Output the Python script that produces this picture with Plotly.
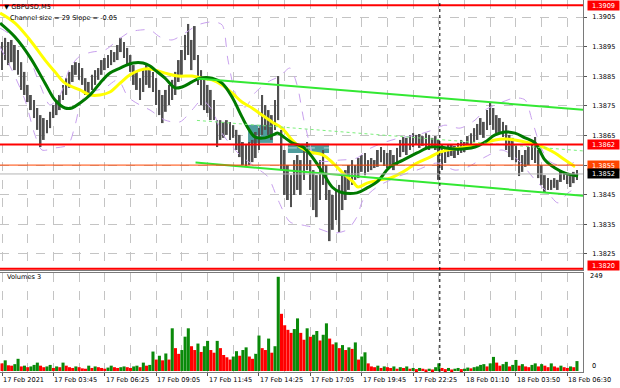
import plotly.graph_objects as go

# ---------------- data (prices stored in pips above BASE) ----------------
BASE = 1.3800
PIP = 0.0001
BARS_PER_GROUP = 2          # each drawn bar = 2 M5 candles

HIGH_PIPS = [
    96.6, 98.0, 96.6, 97.3, 95.6, 93.9, 89.8, 86.5, 82.1, 78.7,
    77.0, 74.3, 71.9, 70.9, 70.2, 73.0, 75.3, 77.0, 78.7, 82.1,
    84.4, 86.5, 88.8, 89.8, 89.5, 87.8, 84.4, 83.1, 85.5, 87.1,
    87.8, 90.5, 91.2, 92.2, 93.9, 93.2, 95.6, 98.0, 96.6, 94.6,
    92.2, 88.8, 86.5, 84.4, 87.1, 88.8, 87.8, 86.5, 84.4, 80.4,
    78.7, 80.4, 82.1, 83.8, 86.5, 90.5, 93.9, 99.0, 102.7, 97.3,
    102.0, 92.2, 87.1, 83.8, 82.1, 80.4, 77.0, 70.2, 70.2, 69.6,
    70.2, 69.6, 68.5, 66.9, 65.2, 62.8, 61.8, 62.8, 63.5, 66.2,
    67.5, 78.7, 75.3, 73.6, 71.9, 77.0, 85.1, 66.9, 60.1, 55.0,
    51.6, 56.7, 58.4, 56.7, 60.1, 62.8, 56.7, 53.3, 51.6, 56.7,
    60.1, 55.0, 46.6, 44.9, 46.6, 48.3, 51.6, 53.3, 55.0, 56.7,
    55.0, 57.4, 58.4, 59.1, 56.7, 57.4, 56.7, 60.1, 61.1, 60.1,
    59.1, 60.1, 58.4, 60.8, 63.5, 64.5, 64.2, 65.2, 65.8, 65.2,
    65.5, 64.8, 65.8, 65.2, 64.2, 64.8, 63.5, 61.8, 61.1, 61.8,
    62.1, 61.5, 62.5, 63.5, 62.8, 64.8, 65.8, 67.5, 68.9, 70.9,
    69.6, 73.6, 76.0, 74.3, 71.9, 70.9, 69.6, 68.5, 65.2, 64.2,
    61.8, 60.1, 58.4, 60.1, 61.1, 63.5, 64.5, 60.1, 55.0, 51.6,
    50.6, 50.0, 50.6, 50.0, 53.3, 52.7, 51.6, 51.3, 52.7, 53.3,
]
LOW_PIPS = [
    87.1, 90.5, 88.8, 89.8, 87.1, 85.5, 80.4, 78.7, 76.3, 73.6,
    70.9, 66.9, 61.1, 63.5, 65.8, 67.5, 70.9, 71.9, 73.6, 77.0,
    78.7, 81.1, 83.1, 85.5, 83.8, 82.1, 78.7, 78.0, 80.4, 82.1,
    83.8, 85.5, 87.1, 87.8, 88.8, 89.8, 90.5, 93.2, 91.2, 88.8,
    86.5, 82.1, 80.4, 77.0, 79.7, 82.1, 81.1, 79.7, 75.3, 71.9,
    69.2, 73.0, 75.3, 77.0, 78.7, 83.1, 85.5, 90.5, 92.2, 87.1,
    90.5, 82.1, 75.3, 73.6, 72.6, 70.2, 70.2, 61.1, 63.5, 64.2,
    65.2, 63.5, 64.2, 60.1, 57.7, 55.0, 54.4, 55.0, 56.0, 57.4,
    60.1, 65.2, 66.9, 65.2, 63.5, 66.9, 70.2, 53.3, 44.9, 43.2,
    40.8, 44.9, 46.6, 44.9, 50.0, 53.3, 46.6, 39.8, 37.4, 43.2,
    48.3, 43.2, 29.3, 33.1, 36.4, 32.4, 39.8, 43.2, 46.6, 48.3,
    50.0, 50.6, 52.7, 51.6, 52.7, 53.3, 54.0, 54.4, 56.0, 54.7,
    54.0, 54.4, 53.3, 55.0, 57.7, 59.4, 58.4, 60.1, 61.1, 61.8,
    60.8, 61.5, 61.1, 60.1, 60.8, 60.1, 50.0, 53.3, 55.7, 57.7,
    58.1, 57.4, 58.4, 59.1, 59.4, 60.8, 61.5, 62.8, 63.5, 65.2,
    64.2, 66.9, 68.5, 66.9, 65.8, 66.2, 64.5, 60.1, 57.7, 56.7,
    56.0, 51.3, 52.7, 54.4, 55.0, 56.7, 55.7, 50.6, 48.3, 45.9,
    46.6, 46.6, 47.3, 46.6, 49.3, 50.0, 48.6, 47.6, 48.9, 50.0,
]
VOLUMES = [
    20, 28, 15, 14, 18, 32, 12, 14, 10, 12,
    16, 22, 14, 10, 12, 16, 8, 12, 10, 22,
    14, 10, 8, 12, 10, 7, 6, 14, 8, 12,
    10, 8, 6, 9, 14, 10, 8, 10, 12, 10,
    8, 12, 14, 10, 22, 14, 16, 51, 30, 40,
    28, 46, 30, 112, 60, 45, 55, 90, 112, 65,
    55, 72, 50, 65, 79, 55, 48, 79, 60, 42,
    36, 30, 38, 52, 40, 55, 62, 38, 32, 45,
    93, 60, 55, 85, 48, 65, 247, 150, 120, 108,
    100, 110, 138, 100, 82, 112, 90, 95, 105, 80,
    95, 125, 85, 70, 75, 60, 68, 55, 62, 58,
    75, 30, 38, 49, 20, 12, 10, 14, 8, 12,
    10, 8, 12, 6, 10, 8, 12, 6, 8, 5,
    8, 6, 4, 6, 4, 10, 20, 8, 5, 8,
    4, 6, 8, 5, 6, 9, 7, 10, 12, 16,
    18, 12, 20, 37, 22, 14, 18, 24, 12, 16,
    29, 14, 18, 12, 10, 16, 20, 12, 18, 14,
    10, 20, 12, 9, 14, 10, 8, 12, 10, 26,
]

# moving averages (bar index, pips)
GREEN_X = [-1.2, 8.1, 17.4, 26.8, 33.0, 39.2, 43.6, 48.6, 54.8, 61.0, 67.2, 73.5, 81.6, 87.8, 92.2,
           95.3, 101.5, 107.7, 112.1, 118.3, 123.3, 130.8, 137.0, 143.2, 149.4, 153.2, 157.5, 163.8,
           168.7, 171.9, 176.2, 180.6, 187.4, 193.6, 199.9, 205.5, 210.5, 221.0, 227.3, 233.5, 241.6,
           249.7, 258.4, 266.5, 272.7, 282.1, 294.5, 300.7, 307.0, 313.2, 319.4, 325.7, 331.9, 338.1,
           344.3, 350.6, 358.7]
GREEN_PIPS = [103.0, 98.3, 91.5, 82.7, 77.0, 74.3, 74.3, 76.0, 78.7, 82.7, 86.1, 87.8, 89.5, 89.5, 88.5,
              87.1, 84.4, 81.1, 81.4, 83.1, 84.4, 84.4, 82.7, 78.0, 71.3, 67.5, 64.5, 64.2,
              65.2, 65.8, 64.2, 62.5, 61.1, 57.4, 52.3, 47.6, 45.9, 45.6, 47.3, 49.3, 54.4,
              56.7, 59.1, 61.1, 61.1, 60.4, 61.1, 62.8, 65.2, 66.2, 65.8, 64.2, 62.5, 56.7,
              54.0, 52.3, 51.3]
YELLOW_X = [-1.2, 8.1, 17.4, 26.8, 33.0, 39.2, 48.6, 54.8, 61.0, 67.2, 73.5, 79.7, 85.9, 92.2, 101.5,
            109.6, 118.3, 124.5, 130.8, 137.0, 143.2, 149.4, 155.7, 161.9, 168.1, 174.3, 180.6, 185.6,
            191.8, 199.9, 206.1, 212.3, 218.6, 221.7, 227.3, 235.4, 241.6, 249.7, 258.4, 266.5, 272.7,
            288.3, 300.7, 307.0, 313.2, 319.4, 325.7, 331.9, 338.1, 344.3, 350.6, 356.8]
YELLOW_PIPS = [106.4, 103.0, 97.3, 90.5, 86.5, 82.7, 80.4, 78.7, 78.7, 79.7, 82.7, 85.5, 87.1, 87.5, 86.1,
               85.1, 85.1, 84.4, 83.8, 82.1, 79.4, 76.3, 74.3, 71.9, 69.6, 67.5, 63.5, 61.1,
               59.4, 58.4, 55.7, 52.3, 49.3, 47.6, 48.9, 50.0, 50.6, 52.7, 55.7, 57.7, 59.4,
               61.1, 62.5, 63.5, 63.8, 63.5, 62.8, 62.1, 60.8, 59.1, 56.7, 54.4]
# envelope bands
UPPER_X = [-1.2, 8.1, 16.2, 23.7, 29.9, 36.1, 42.3, 48.6, 56.0, 64.1, 72.2, 79.7, 87.2, 92.2, 98.4,
           105.9, 113.9, 122.0, 130.8, 137.0, 140.7, 145.7, 151.3, 157.5, 165.6, 173.1, 179.3, 183.7,
           188.7, 196.1, 210.5, 221.0, 227.3, 237.2, 247.8, 258.4, 268.4, 275.8, 285.2, 294.5, 300.7,
           310.1, 319.4, 325.7, 330.0, 335.0, 340.0, 346.2, 352.4, 358.7]
UPPER_PIPS = [101.3, 98.0, 92.2, 82.1, 75.3, 78.7, 87.8, 91.9, 93.2, 93.9, 97.3, 100.0, 100.7, 100.7, 98.3,
              97.3, 99.6, 102.4, 103.4, 102.4, 90.5, 78.7, 74.6, 79.4, 83.1, 85.1, 87.8, 82.1,
              68.5, 56.7, 56.7, 57.4, 60.1, 62.5, 64.2, 65.2, 66.9, 68.5, 67.5, 70.2, 73.6,
              76.0, 77.7, 77.0, 70.2, 61.8, 56.7, 55.0, 55.0, 56.7]
LOWER_X = [-1.2, 6.2, 14.3, 20.5, 24.9, 33.0, 41.1, 45.5, 49.8, 56.0, 64.1, 72.2, 78.5, 85.9, 92.2,
           101.5, 110.8, 118.3, 124.5, 130.8, 137.0, 146.9, 157.5, 165.6, 171.9, 179.3, 187.4, 196.1,
           206.1, 214.8, 221.0, 224.8, 233.5, 246.0, 258.4, 270.9, 282.1, 290.2, 300.7, 311.3, 321.3,
           331.9, 340.0, 346.2, 352.4, 358.7]
LOWER_PIPS = [94.9, 87.1, 77.0, 65.2, 60.1, 60.8, 61.8, 68.5, 77.0, 79.7, 81.1, 83.8, 78.0, 75.3, 73.6,
              70.2, 69.6, 73.6, 77.0, 73.6, 65.8, 59.1, 54.4, 51.0, 43.2, 35.8, 34.7, 33.7,
              32.0, 33.1, 37.5, 43.2, 47.6, 51.0, 53.3, 55.7, 53.3, 54.4, 57.7, 60.1, 56.7,
              50.0, 45.6, 42.2, 45.6, 47.6]

# channel lines: (bar start, price start, bar end, price end)
CHANNEL_UPPER = (121.4, 1.38843, 361.75, 1.38737)
CHANNEL_MID = (121.4, 1.38701, 361.75, 1.38598)
CHANNEL_LOWER = (120.5, 1.38559, 361.75, 1.38446)
# zones: (bar0, bar1, price low, price high)
ZONE_1 = (153.2, 168.7, 1.38625, 1.38686)
ZONE_2 = (178.0, 203.6, 1.38591, 1.38622)
ZONE_2_MID = 1.38608

LEVELS = [  # price, colour, width
    (1.3909, "#ff0000", 2),
    (1.3862, "#ff0000", 2),
    (1.3855, "#ff4500", 1),
    (1.3852, "#b4b4b4", 1),
    (1.3820, "#ff0000", 2),
]
LEVEL_TAGS = [  # price, background
    (1.3909, "#ff0000"),
    (1.3862, "#ff0000"),
    (1.3855, "#ff4500"),
    (1.3852, "#000000"),
    (1.3820, "#ff0000"),
]
PRICE_TICKS = [1.3825, 1.3835, 1.3845, 1.3855, 1.3865, 1.3875, 1.3885, 1.3895, 1.3905]
TIME_LABELS = ["17 Feb 2021", "17 Feb 03:45", "17 Feb 06:25", "17 Feb 09:05", "17 Feb 11:45",
               "17 Feb 14:25", "17 Feb 17:05", "17 Feb 19:45", "17 Feb 22:25", "18 Feb 01:10",
               "18 Feb 03:50", "18 Feb 06:30"]
TIME_LABEL_BARS = [0, 32, 64, 96, 128, 160, 192, 224, 256, 288, 320, 352]
DAY_SEPARATOR_BAR = 272.6
VOL_MAX_LABEL = 249

# ---------------- figure ----------------
FONT = "DejaVu Sans"
FS = 6.6


def price(p):
    return BASE + p * PIP


xs = [i * BARS_PER_GROUP for i in range(len(HIGH_PIPS))]
vol_colors = ["#ff0000"] + ["#0a8a0a" if VOLUMES[i] > VOLUMES[i - 1] else "#ff0000"
                            for i in range(1, len(VOLUMES))]

fig = go.Figure()
band = dict(color="#c8a0ee", width=1, dash="dash", shape="spline", smoothing=0.8)
fig.add_trace(go.Scatter(x=UPPER_X, y=[price(v) for v in UPPER_PIPS], mode="lines", line=band))
fig.add_trace(go.Scatter(x=LOWER_X, y=[price(v) for v in LOWER_PIPS], mode="lines", line=band))
fig.add_trace(go.Bar(x=xs, y=[(h - l) * PIP for h, l in zip(HIGH_PIPS, LOW_PIPS)],
                     base=[price(l) for l in LOW_PIPS], width=1.15,
                     marker=dict(color="#505050", line=dict(width=0))))
fig.add_trace(go.Scatter(x=YELLOW_X, y=[price(v) for v in YELLOW_PIPS], mode="lines",
                         line=dict(color="#ffff00", width=3, shape="spline", smoothing=1)))
fig.add_trace(go.Scatter(x=GREEN_X, y=[price(v) for v in GREEN_PIPS], mode="lines",
                         line=dict(color="#007a00", width=3, shape="spline", smoothing=1)))
fig.add_trace(go.Bar(x=xs, y=VOLUMES, width=1.9, xaxis="x2", yaxis="y2",
                     marker=dict(color=vol_colors, line=dict(width=0))))

shapes = []
for (x0, y0, x1, y1), dash, col, w in [(CHANNEL_UPPER, "solid", "#33e833", 2),
                                       (CHANNEL_MID, "dot", "#7cf07c", 1),
                                       (CHANNEL_LOWER, "solid", "#33e833", 2)]:
    shapes.append(dict(type="line", xref="x", yref="y", x0=x0, y0=y0, x1=x1, y1=y1,
                       line=dict(color=col, width=w, dash=dash)))
for b0, b1, p0, p1 in [ZONE_1, ZONE_2]:
    shapes.append(dict(type="rect", xref="x", yref="y", x0=b0, x1=b1, y0=p0, y1=p1,
                       fillcolor="#4f9d9d", line=dict(width=0), layer="below"))
shapes.append(dict(type="line", xref="x", yref="y", x0=ZONE_2[0], x1=ZONE_2[1], y0=ZONE_2_MID,
                   y1=ZONE_2_MID, line=dict(color="#b8dede", width=1, dash="dash")))
for p, col, w in LEVELS:
    shapes.append(dict(type="line", xref="x domain", yref="y", x0=0, x1=1, y0=p, y1=p,
                       line=dict(color=col, width=w)))
shapes.append(dict(type="line", xref="x", yref="paper", x0=DAY_SEPARATOR_BAR, x1=DAY_SEPARATOR_BAR,
                   y0=0, y1=1, line=dict(color="#000000", width=1, dash="dot")))

ann = []
txt = dict(family=FONT, size=FS, color="#000000")
ann.append(dict(xref="paper", yref="paper", x=0.004, y=1 - 7 / 372, xanchor="left", yanchor="middle",
                text="▼ GBPUSD,M5", showarrow=False, font=txt))
ann.append(dict(xref="paper", yref="paper", x=0.013, y=1 - 18 / 372, xanchor="left", yanchor="middle",
                text="Channel size = 29 Slope = -0.05", showarrow=False, font=txt))
ann.append(dict(xref="paper", yref="paper", x=0.009, y=1 - 277 / 372, xanchor="left", yanchor="middle",
                text="Volumes 3", showarrow=False, font=txt))
ann.append(dict(xref="paper", yref="paper", x=1, xshift=5, y=1 - 276 / 372, xanchor="left",
                yanchor="middle", text=str(VOL_MAX_LABEL), showarrow=False, font=txt))
ann.append(dict(xref="paper", yref="paper", x=1, xshift=7, y=1 - 366 / 372, xanchor="left",
                yanchor="middle", text="0", showarrow=False, font=txt))
for lab, b in zip(TIME_LABELS, TIME_LABEL_BARS):
    ann.append(dict(xref="x", yref="paper", x=b, y=-8 / 372, xanchor="left", yanchor="middle",
                    text=lab, showarrow=False, font=txt, xshift=-1))
for p, bg in LEVEL_TAGS:
    ann.append(dict(xref="paper", yref="y", x=1, xshift=4, y=p, xanchor="left", yanchor="middle",
                    yshift=3 if p < 1.3825 else 0,
                    text=f"{p:.4f}", showarrow=False, bgcolor=bg, width=31, height=9, borderpad=0,
                    font=dict(family=FONT, size=FS, color="#ffffff")))

axis_line = dict(showline=True, mirror=True, linecolor="#7a7a7a", linewidth=1)
fig.update_layout(
    width=620, height=388, margin=dict(l=0, r=37, t=0, b=16),
    paper_bgcolor="#ffffff", plot_bgcolor="#ffffff", showlegend=False,
    shapes=shapes, annotations=ann,
    xaxis=dict(domain=[0, 1], range=[-1.25, 361.75], anchor="y", tickvals=list(range(0, 361, 16)),
               showticklabels=False, ticks="", showgrid=True, gridcolor="#c4c4c4", griddash="dash",
               gridwidth=1, zeroline=False, **axis_line),
    yaxis=dict(domain=[102 / 372, 1], range=[price(19.54), price(110.8)], anchor="x", side="right",
               tickvals=PRICE_TICKS, ticktext=[f"{t:.4f}" for t in PRICE_TICKS],
               ticks="outside", ticklen=3, tickcolor="#555555", ticklabelstandoff=4,
               tickfont=dict(family=FONT, size=FS, color="#000000"),
               showgrid=True, gridcolor="#c4c4c4", griddash="dash", zeroline=False, **axis_line),
    xaxis2=dict(domain=[0, 1], range=[-1.25, 361.75], anchor="y2", matches="x",
                tickvals=TIME_LABEL_BARS, showticklabels=False, ticks="outside", ticklen=3,
                tickcolor="#555555", showgrid=True, gridcolor="#c4c4c4", griddash="dash",
                minor=dict(tickvals=list(range(16, 361, 32)), showgrid=True, gridcolor="#c4c4c4",
                           griddash="dash", ticks=""),
                zeroline=False, **axis_line),
    yaxis2=dict(domain=[0, 99 / 372], range=[-2.6, 257], anchor="x2", side="right",
                showticklabels=False, ticks="", showgrid=False, zeroline=False, **axis_line),
)

fig.write_html("out.html")
